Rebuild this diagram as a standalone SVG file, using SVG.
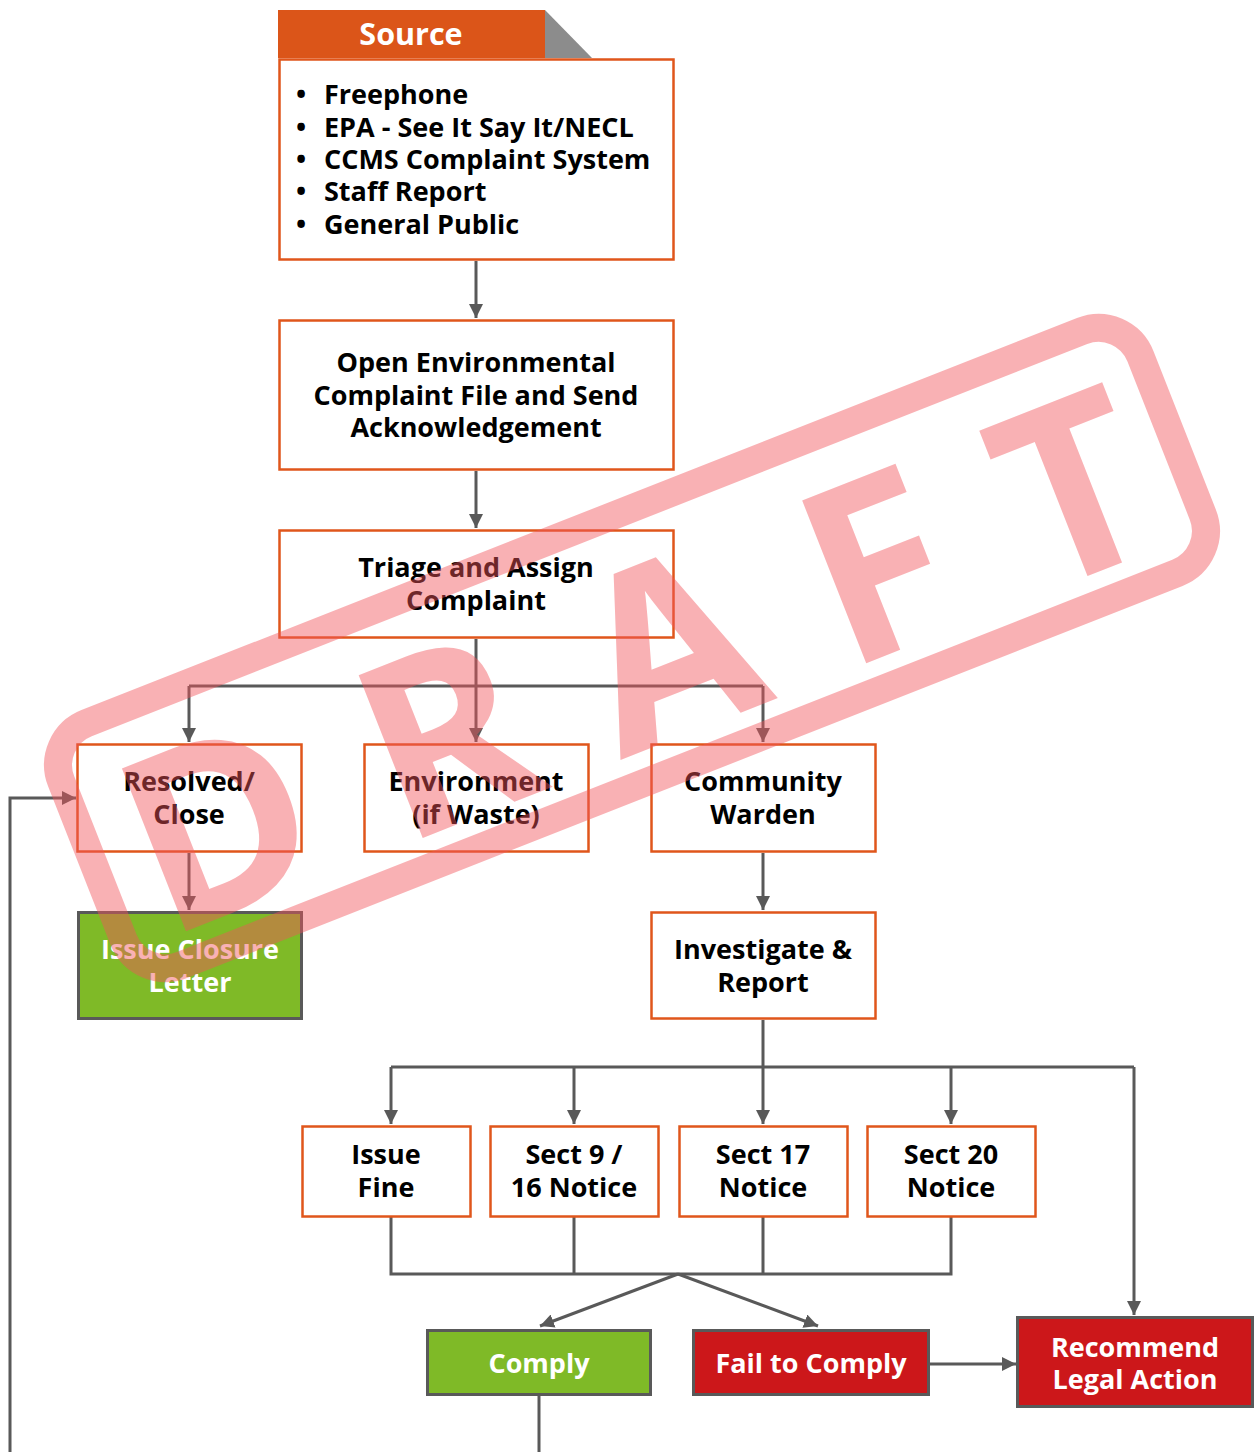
<svg xmlns="http://www.w3.org/2000/svg" width="1255" height="1452" viewBox="0 0 1255 1452">
<style>
.t{font-family:"Open Sans","Noto Sans","Liberation Sans",sans-serif;font-weight:700;font-size:27px;text-anchor:middle;fill:#000}
.w{fill:#fff}
.ob{fill:#fff;stroke:#e0561b;stroke-width:2.5}
.gb{fill:#7fba27;stroke:#595959;stroke-width:3}
.rb{fill:#cc171a;stroke:#595959;stroke-width:3}
.ln{fill:none;stroke:#595959;stroke-width:3}
.ar{marker-end:url(#ah)}
</style>
<defs>
<marker id="ah" viewBox="0 0 14 14" refX="14" refY="7" markerWidth="14" markerHeight="14" orient="auto" markerUnits="userSpaceOnUse"><path d="M0,0 L14,7 L0,14 z" fill="#595959"/></marker>
</defs>

<g id="connectors">
<path class="ln ar" d="M476,261 V318"/>
<path class="ln ar" d="M476,471 V528"/>
<path class="ln ar" d="M476,639 V742"/>
<path class="ln" d="M189,686 H763"/>
<path class="ln ar" d="M189,686 V742"/>
<path class="ln ar" d="M763,686 V742"/>
<path class="ln ar" d="M189,853 V910"/>
<path class="ln ar" d="M763,853 V910"/>
<path class="ln" d="M763,1020 V1067"/>
<path class="ln" d="M391,1067 H1134"/>
<path class="ln ar" d="M391,1067 V1124"/>
<path class="ln ar" d="M574,1067 V1124"/>
<path class="ln ar" d="M763,1067 V1124"/>
<path class="ln ar" d="M951,1067 V1124"/>
<path class="ln ar" d="M1134,1067 V1315"/>
<path class="ln" d="M391,1217 V1274 H951 V1217 M574,1217 V1274 M763,1217 V1274"/>
<path class="ln ar" d="M678,1274 L540,1326"/>
<path class="ln ar" d="M678,1274 L818,1326"/>
<path class="ln ar" d="M930,1364 H1016"/>
<path class="ln" d="M539,1396 V1452"/>
<path class="ln ar" d="M10,1452 V798 H76"/>
</g>

<g id="source">
<rect x="278" y="10" width="267" height="48" fill="#db5519"/>
<path d="M545,10 L592,58 L545,58 z" fill="#8c8c8c"/>
<text class="t w" x="411" y="45" style="font-size:30.5px">Source</text>
<rect class="ob" x="279.5" y="59.5" width="394" height="200"/>
<g class="t" style="text-anchor:start">
<text x="296" y="104">•<tspan x="324">Freephone</tspan></text>
<text x="296" y="137">•<tspan x="324">EPA - See It Say It/NECL</tspan></text>
<text x="296" y="169">•<tspan x="324">CCMS Complaint System</tspan></text>
<text x="296" y="201">•<tspan x="324">Staff Report</tspan></text>
<text x="296" y="234">•<tspan x="324">General Public</tspan></text>
</g>
</g>

<g id="open-file">
<rect class="ob" x="279.5" y="320.5" width="394" height="149"/>
<text class="t" x="476" y="372">Open Environmental</text>
<text class="t" x="476" y="405">Complaint File and Send</text>
<text class="t" x="476" y="437">Acknowledgement</text>
</g>

<g id="triage">
<rect class="ob" x="279.5" y="530.5" width="394" height="107"/>
<text class="t" x="476" y="577">Triage and Assign</text>
<text class="t" x="476" y="610">Complaint</text>
</g>

<g id="resolved">
<rect class="ob" x="77.5" y="744.5" width="224" height="107"/>
<text class="t" x="189" y="791">Resolved/</text>
<text class="t" x="189" y="824">Close</text>
</g>

<g id="environment">
<rect class="ob" x="364.5" y="744.5" width="224" height="107"/>
<text class="t" x="476" y="791">Environment</text>
<text class="t" x="476" y="824">(if Waste)</text>
</g>

<g id="warden">
<rect class="ob" x="651.5" y="744.5" width="224" height="107"/>
<text class="t" x="763" y="791">Community</text>
<text class="t" x="763" y="824">Warden</text>
</g>

<g id="closure-letter">
<rect class="gb" x="78.5" y="912.5" width="223" height="106"/>
<text class="t w" x="190" y="959">Issue Closure</text>
<text class="t w" x="190" y="992">Letter</text>
</g>

<g id="investigate">
<rect class="ob" x="651.5" y="912.5" width="224" height="106"/>
<text class="t" x="763" y="959">Investigate &amp;</text>
<text class="t" x="763" y="992">Report</text>
</g>

<g id="issue-fine">
<rect class="ob" x="302.5" y="1126.5" width="168" height="90"/>
<text class="t" x="386" y="1164">Issue</text>
<text class="t" x="386" y="1197">Fine</text>
</g>
<g id="sect9">
<rect class="ob" x="490.5" y="1126.5" width="168" height="90"/>
<text class="t" x="574" y="1164">Sect 9 /</text>
<text class="t" x="574" y="1197">16 Notice</text>
</g>
<g id="sect17">
<rect class="ob" x="679.5" y="1126.5" width="168" height="90"/>
<text class="t" x="763" y="1164">Sect 17</text>
<text class="t" x="763" y="1197">Notice</text>
</g>
<g id="sect20">
<rect class="ob" x="867.5" y="1126.5" width="168" height="90"/>
<text class="t" x="951" y="1164">Sect 20</text>
<text class="t" x="951" y="1197">Notice</text>
</g>

<g id="comply">
<rect class="gb" x="427.5" y="1330.5" width="223" height="64"/>
<text class="t w" x="539" y="1373">Comply</text>
</g>
<g id="fail">
<rect class="rb" x="693.5" y="1330.5" width="235" height="64"/>
<text class="t w" x="811" y="1373">Fail to Comply</text>
</g>
<g id="legal">
<rect class="rb" x="1017.5" y="1317.5" width="235" height="89"/>
<text class="t w" x="1135" y="1357">Recommend</text>
<text class="t w" x="1135" y="1389">Legal Action</text>
</g>

<g id="watermark" transform="translate(632,648) rotate(-21.5)" opacity="0.45">
<rect x="-580" y="-130" width="1160" height="260" rx="45" fill="none" stroke="#f2545b" stroke-width="28"/>
<text x="36" y="100" style="font-family:'Open Sans','Liberation Sans',sans-serif;font-weight:700;font-size:245px;text-anchor:middle;letter-spacing:73px" fill="#f2545b">DRAFT</text>
</g>
</svg>
